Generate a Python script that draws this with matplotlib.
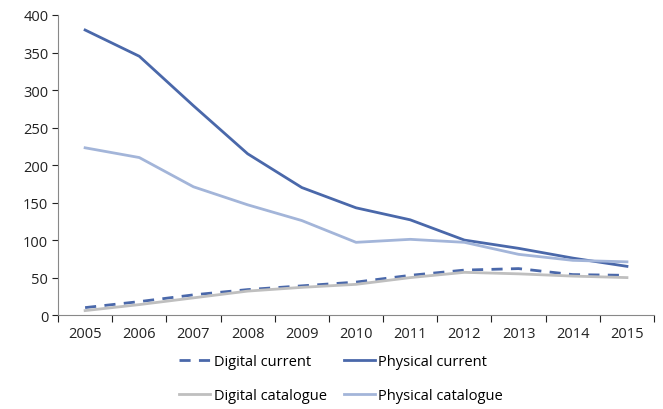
import matplotlib.pyplot as plt
import numpy as np

years = ['2005', '2006', '2007', '2008', '2009', '2010', '2011', '2012', '2013', '2014', '2015']
digital_current = [10, 18, 27, 34, 39, 44, 53, 60, 62, 54, 53]
physical_current = [380, 345, 279, 215, 170, 143, 127, 100, 89, 76, 65]
digital_catalogue = [6, 14, 23, 32, 37, 41, 50, 57, 55, 52, 50]
physical_catalogue = [223, 210, 171, 147, 126, 97, 101, 97, 81, 73, 71]

plt.rcParams['font.family'] = ['Open Sans', 'DejaVu Sans']
plt.rcParams['font.size'] = 10.5

fig = plt.figure(figsize=(6.63, 4.10), dpi=100)
ax = fig.add_axes([0.0875, 0.229, 0.899, 0.732])

x = np.arange(len(years))
dark = '#4a68aa'
light = '#a3b5d9'
grey = '#bfbfbf'

l1, = ax.plot(x, digital_current, color=dark, lw=2.0, dashes=(4, 3), label='Digital current')
l2, = ax.plot(x, physical_current, color=dark, lw=2.0, label='Physical current')
l3, = ax.plot(x, digital_catalogue, color=grey, lw=2.0, label='Digital catalogue')
l4, = ax.plot(x, physical_catalogue, color=light, lw=2.0, label='Physical catalogue')

ax.set_xlim(-0.5, len(years) - 0.5)
ax.set_ylim(0, 400)
ax.set_yticks(range(0, 401, 50))
ax.set_xticks(np.arange(-0.5, len(years), 1.0))
ax.set_xticklabels([])
ax.set_xticks(x, minor=True)
ax.set_xticklabels(years, minor=True)
ax.tick_params(axis='x', which='minor', length=0, pad=8)
ax.tick_params(axis='x', which='major', length=5, color='#888888')
ax.tick_params(axis='y', length=4, color='#888888', pad=3)
ax.tick_params(colors='#222222', which='both', labelcolor='#222222')

for s in ['top', 'right']:
    ax.spines[s].set_visible(False)
for s in ['left', 'bottom']:
    ax.spines[s].set_color('#888888')

# column-wise fill -> order so rows read DC/PC, DCat/PCat
ax.legend([l1, l3, l2, l4], [l.get_label() for l in [l1, l3, l2, l4]],
          loc='upper center', bbox_to_anchor=(0.475, -0.085), ncol=2, frameon=False,
          handlelength=2.1, columnspacing=1.2, handletextpad=0.25, labelspacing=1.3)

fig.savefig('out.png', dpi=100)
